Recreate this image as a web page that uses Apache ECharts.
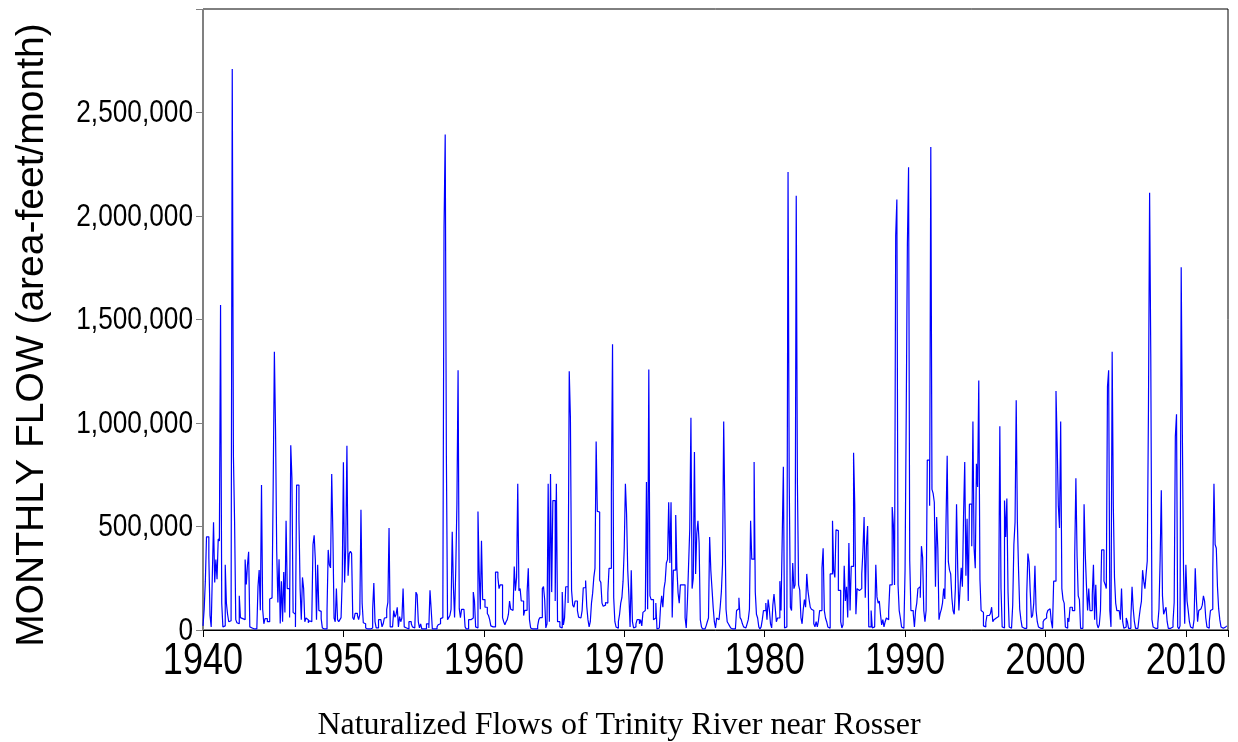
<!DOCTYPE html>
<html>
<head>
<meta charset="utf-8">
<script src="https://cdn.jsdelivr.net/npm/echarts@6/dist/echarts.min.js"></script>
<style>
html,body{margin:0;padding:0;background:#fff;}
#chart{width:1238px;height:742px;}
</style>
</head>
<body>
<div id="chart"></div>
<script>
// Monthly naturalized flow, thousand acre-feet per month, Jan of first year onward
const startYear = 1940;
const flows1940s = [
  20,100,236,450,450,350,70,15,270,520,230,340,
  245,440,430,1570,130,15,20,315,130,76,40,45,
  60,2710,840,520,50,35,30,165,60,55,50,50,
  340,220,315,378,15,10,5,5,5,5,10,210,
  290,95,700,100,30,55,55,40,40,150,155,160,
  706,1344,963,380,133,342,32,236,40,280,85,528,
  200,200,60,892,733,85,76,15,700,700,537,200,
  50,254,200,40,58,50,35,45,40,58,413,457,
  340,50,315,95,90,55,10,5,5,5,95,387,
  315,300,753,466,58,40,200,50,40,50,60,250
];
const flows1950s = [
  810,230,400,890,262,369,380,370,60,50,80,80,
  70,50,75,581,130,35,30,10,5,5,5,5,
  10,100,227,40,10,10,50,50,50,15,30,58,
  60,100,133,493,15,15,20,94,62,75,110,15,
  65,40,58,200,15,10,5,5,40,40,30,15,
  10,10,183,170,40,10,30,5,5,5,5,30,
  30,10,192,100,5,5,5,5,15,25,30,55,
  60,150,1945,2394,840,50,60,70,100,475,210,60,
  289,608,1255,103,60,100,100,100,15,5,5,50,
  50,58,58,183,140,15,10,573,289,100,431,147
];
const flows1960s = [
  147,110,110,80,70,50,20,15,15,15,280,280,
  254,200,218,218,60,40,25,40,50,75,140,100,
  95,103,307,190,254,706,190,200,140,140,70,95,
  95,183,298,50,10,5,5,5,5,5,20,50,
  60,60,200,210,147,10,30,706,40,753,183,625,
  625,140,706,40,40,15,10,183,25,58,209,209,
  130,1250,1025,191,120,110,140,140,94,62,58,65,
  94,204,204,239,112,50,15,40,130,178,254,298,
  910,573,570,240,230,130,115,120,133,130,180,298,
  298,661,1381,156,40,15,8,40,75,130,156,236
];
const flows1970s = [
  395,706,560,289,165,15,289,40,10,15,30,50,
  50,30,50,20,85,94,94,715,100,1259,165,147,
  147,50,58,130,5,10,5,110,165,110,200,236,
  324,340,617,324,617,60,289,289,555,298,180,130,
  218,218,218,218,60,10,138,315,488,1025,200,250,
  860,271,466,528,420,50,15,5,5,5,20,40,
  58,449,289,200,110,40,10,58,50,50,110,183,
  315,1007,573,100,40,30,20,10,5,5,5,5,
  94,103,156,60,50,30,15,10,5,30,50,100,
  528,342,342,812,183,76,58,15,5,15,50,94
];
const flows1980s = [
  94,130,50,147,100,30,10,120,174,110,40,58,
  58,236,94,440,789,10,15,75,2213,733,110,94,
  324,200,218,2098,715,218,193,60,30,100,147,110,
  271,190,147,110,100,94,30,15,40,15,45,94,
  94,300,395,94,58,40,15,8,271,271,528,289,
  254,484,480,191,191,40,10,25,310,140,209,60,
  420,94,307,307,856,608,76,200,191,191,200,271,
  383,546,156,405,502,15,15,94,10,15,15,315,
  160,130,140,76,25,50,15,40,58,50,90,218,
  218,594,511,218,1906,2080,218,94,58,15,8,8
];
const flows1990s = [
  289,1042,1867,2236,333,94,94,80,15,94,130,200,
  209,156,405,351,94,40,94,821,821,600,2333,679,
  660,617,209,546,395,50,80,100,130,200,150,520,
  842,330,289,271,156,94,76,200,608,300,94,200,
  301,209,555,812,262,537,140,608,608,405,1007,395,
  298,803,691,1205,245,94,85,20,15,35,70,70,
  76,80,110,40,50,58,62,65,130,984,200,15,
  10,626,449,635,183,15,8,8,120,413,520,1110,
  520,289,100,50,15,8,8,8,174,369,328,183,
  60,70,130,310,94,40,15,8,8,8,40,50
];
const flows2000s = [
  58,76,94,103,110,40,8,236,236,1154,901,600,
  493,1007,200,147,130,15,8,58,40,110,110,94,
  94,360,733,360,165,147,8,8,8,608,369,218,
  94,200,94,94,170,315,50,218,30,10,25,94,
  387,387,236,220,200,1176,1255,94,15,1344,599,254,
  130,94,94,94,50,200,40,8,15,58,40,8,
  8,58,209,103,40,8,8,8,58,103,138,289,
  236,200,271,333,1051,2112,1335,50,15,8,10,8,
  30,100,342,675,165,76,94,110,40,8,8,10,
  15,40,133,936,1042,15,5,20,1752,945,289,30
];
const flows2010s = [
  315,140,94,40,15,8,8,50,298,147,40,94,
  103,94,120,165,140,58,15,8,40,94,100,289,
  706,413,395,209,103,50,15,8,8,15,20,20
];
const yTickValues = [0, 500, 1000, 1500, 2000, 2500];   // thousand acre-feet
const yTickLabels = ['0', '500,000', '1,000,000', '1,500,000', '2,000,000', '2,500,000'];
const xTickValues = [1940, 1950, 1960, 1970, 1980, 1990, 2000, 2010];
const xTickLabels = ['1940', '1950', '1960', '1970', '1980', '1990', '2000', '2010'];
const yTickStep = 500;
const yMax = 3000;
const xMin = 1940, xMax = 2013, xTickStep = 10;
const chartTitle = 'Naturalized Flows of Trinity River near Rosser';
const yTitle = 'MONTHLY FLOW (area-feet/month)';

const allFlows = [].concat(flows1940s, flows1950s, flows1960s, flows1970s,
                           flows1980s, flows1990s, flows2000s, flows2010s);
const seriesData = allFlows.map((v, i) => [startYear + i / 12, v]);

const chart = echarts.init(document.getElementById('chart'), null, {renderer: 'canvas'});
const baseGraphic = [{
  type: 'text',
  x: 32, y: 335,
  rotation: Math.PI / 2,
  style: {text: yTitle, fontFamily: 'Liberation Sans', fontSize: 39, fill: '#000',
          align: 'center', verticalAlign: 'middle'}
}];
chart.setOption({
  animation: false,
  backgroundColor: '#ffffff',
  title: {
    text: chartTitle,
    left: 'center',
    top: 705,
    textStyle: {fontFamily: 'Liberation Serif', fontSize: 32, fontWeight: 'normal', color: '#000'}
  },
  graphic: baseGraphic,
  grid: {left: 203, right: 10, top: 9, bottom: 112, containLabel: false, outerBoundsMode: 'none',
         show: true, borderColor: '#000', borderWidth: 1},
  xAxis: {
    type: 'value', min: xMin, max: xMax, interval: xTickStep,
    axisLine: {show: true, onZero: false, lineStyle: {color: '#000', width: 1}},
    axisTick: {show: true, inside: false, length: 7, lineStyle: {color: '#000'}},
    axisLabel: {show: false},
    splitLine: {show: false}
  },
  yAxis: {
    type: 'value', min: 0, max: yMax, interval: yTickStep,
    axisLine: {show: true, lineStyle: {color: '#808080', width: 1}},
    axisTick: {show: true, inside: false, length: 7, lineStyle: {color: '#808080'}},
    axisLabel: {show: false},
    splitLine: {show: false}
  },
  series: [{
    type: 'line', step: 'end', data: seriesData, showSymbol: false, symbol: 'none',
    lineStyle: {color: '#0000ff', width: 1.2}, clip: true
  }]
});

// Tick labels in a condensed face (regular face squeezed horizontally),
// placed through the chart's own axis scales.
const labelEls = [];
yTickValues.forEach((v, i) => {
  const p = chart.convertToPixel({gridIndex: 0}, [xMin, v]);
  labelEls.push({
    type: 'text', x: p[0] - 10, y: p[1] + 1, scaleX: 0.82,
    style: {text: yTickLabels[i], fontFamily: 'Liberation Sans', fontSize: 32, fill: '#000',
            align: 'right', verticalAlign: 'middle'}
  });
});
xTickValues.forEach((v, i) => {
  const p = chart.convertToPixel({gridIndex: 0}, [v, 0]);
  labelEls.push({
    type: 'text', x: p[0], y: p[1] + 32, scaleX: 0.82,
    style: {text: xTickLabels[i], fontFamily: 'Liberation Sans', fontSize: 44, fill: '#000',
            align: 'center', verticalAlign: 'middle'}
  });
});
chart.setOption({graphic: baseGraphic.concat(labelEls)});
</script>
</body>
</html>
